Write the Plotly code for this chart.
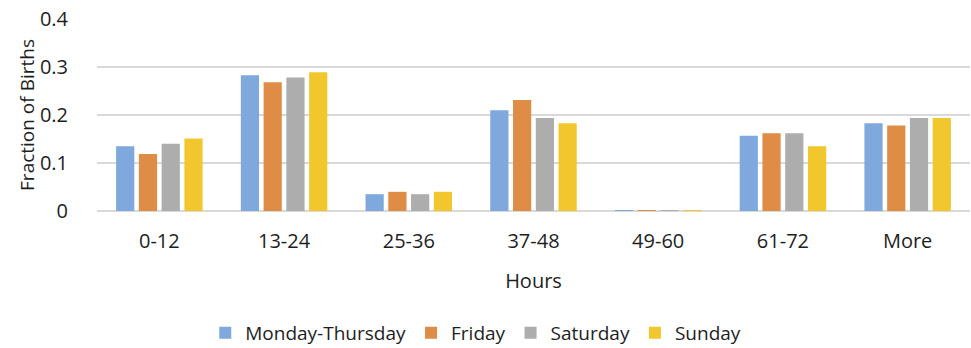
import plotly.graph_objects as go

# Time-to-birth bins (hours) and fraction of births per day group
hours = ["0-12", "13-24", "25-36", "37-48", "49-60", "61-72", "More"]
mon_thu = [0.135, 0.283, 0.035, 0.210, 0.002, 0.157, 0.183]
friday = [0.119, 0.268, 0.040, 0.231, 0.002, 0.162, 0.178]
saturday = [0.140, 0.278, 0.035, 0.194, 0.002, 0.162, 0.194]
sunday = [0.151, 0.289, 0.040, 0.183, 0.002, 0.135, 0.194]

y_ticks = [0, 0.1, 0.2, 0.3, 0.4]
y_tick_text = ["0", "0.1", "0.2", "0.3", "0.4"]

series = [
    ("Monday-Thursday", mon_thu, "#7FA8DC"),
    ("Friday", friday, "#DF8D46"),
    ("Saturday", saturday, "#ADADAD"),
    ("Sunday", sunday, "#F2C72E"),
]

FONT = "Open Sans, Noto Sans, sans-serif"
TEXT = "#1E1E1E"

fig = go.Figure()
for name, vals, color in series:
    fig.add_trace(go.Bar(x=hours, y=vals, name=name, marker=dict(color=color, line=dict(width=0))))

fig.update_layout(
    width=971,
    height=348,
    margin=dict(l=97, r=1, t=19, b=137, autoexpand=False),
    paper_bgcolor="white",
    plot_bgcolor="white",
    barmode="group",
    bargap=0.27,
    bargroupgap=0.2,
    font=dict(family=FONT, size=20, color=TEXT),
    showlegend=True,
    legend=dict(
        orientation="h",
        x=0.124,
        xanchor="left",
        y=-0.635,
        yanchor="middle",
        itemwidth=30,
        font=dict(family=FONT, size=19, color=TEXT),
        traceorder="normal",
    ),
    xaxis=dict(
        title=dict(text="Hours", font=dict(size=20, color=TEXT), standoff=20),
        showgrid=False,
        showline=False,
        ticks="",
        tickfont=dict(size=20, color=TEXT),
        ticklabelstandoff=16,
    ),
    yaxis=dict(
        title=dict(text="Fraction of Births", font=dict(size=19, color=TEXT), standoff=0),
        range=[0, 0.4],
        tickvals=y_ticks,
        ticktext=y_tick_text,
        tickfont=dict(size=20, color=TEXT),
        showgrid=True,
        gridcolor="#D9D9D9",
        gridwidth=1.5,
        zeroline=True,
        zerolinecolor="#D9D9D9",
        zerolinewidth=1.5,
        showline=False,
        ticks="",
        ticklabelstandoff=28,
    ),
)

fig.write_html("out.html")
